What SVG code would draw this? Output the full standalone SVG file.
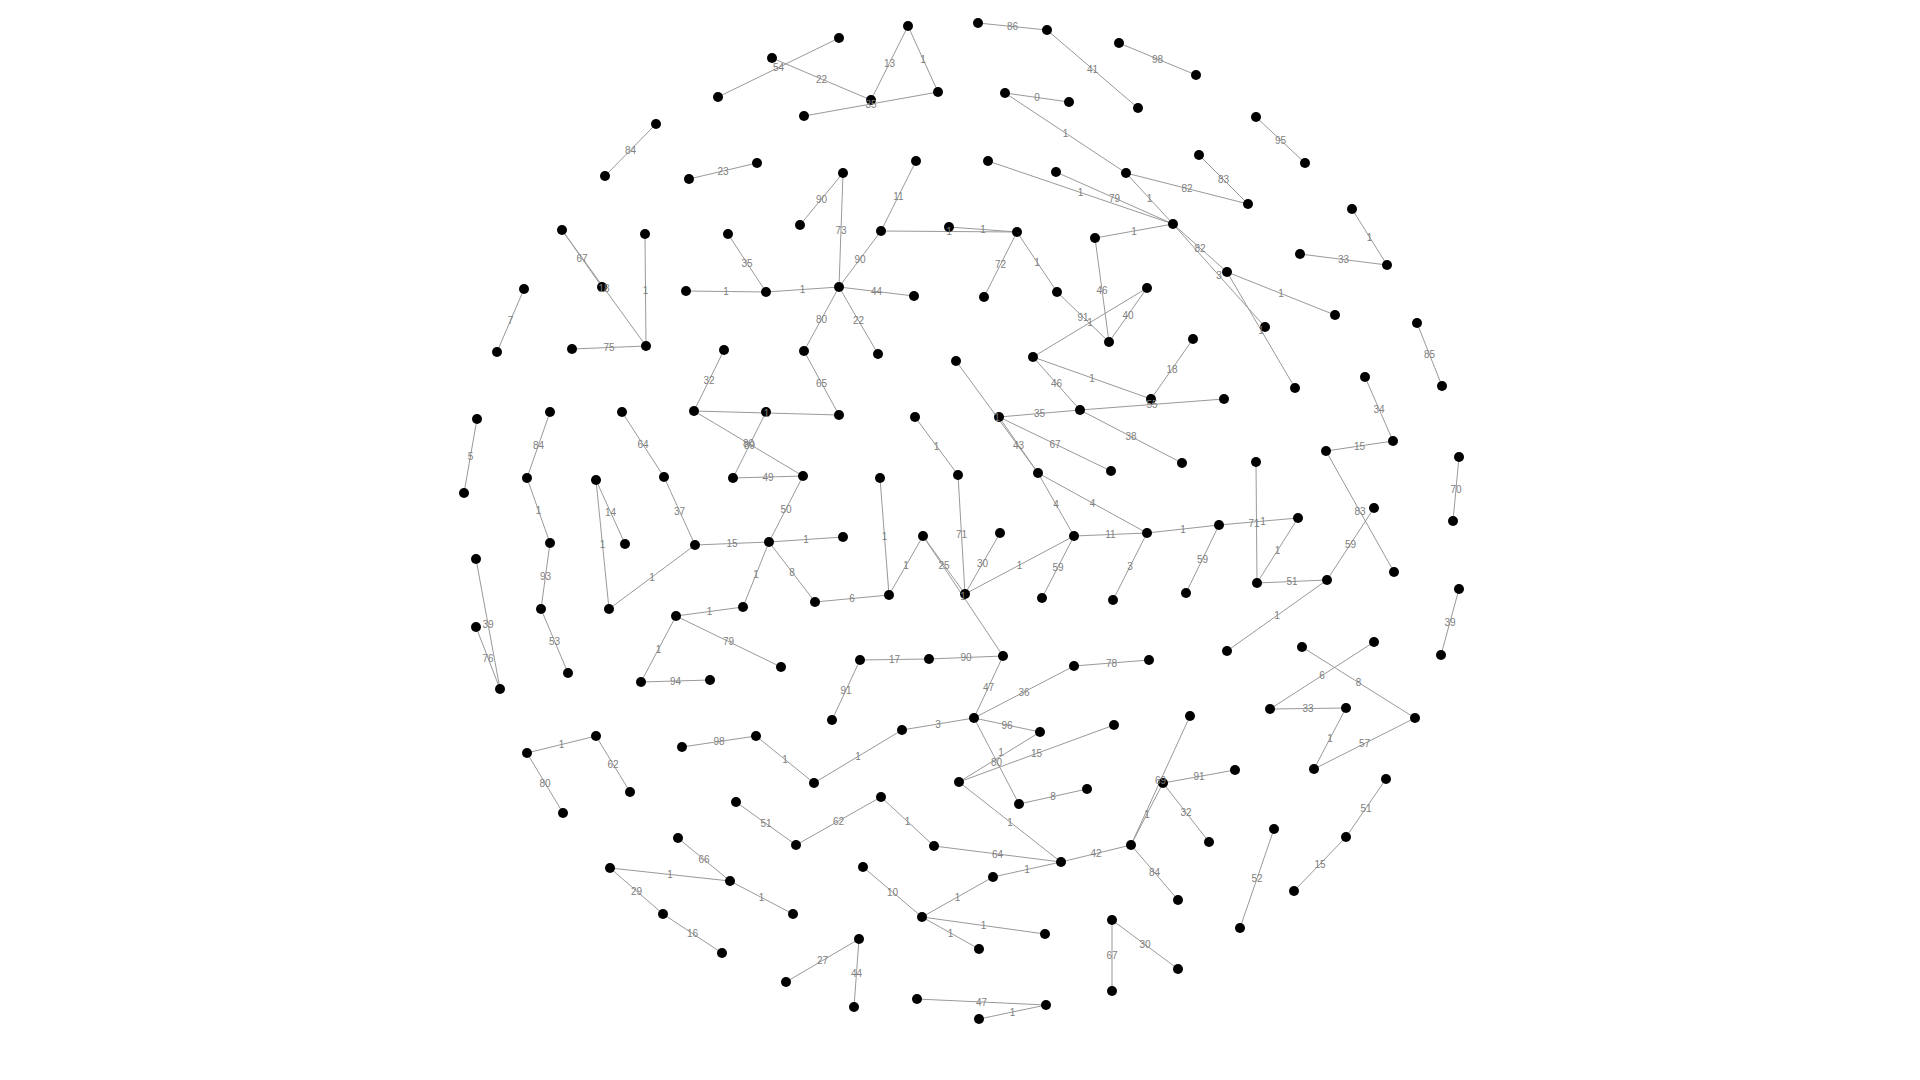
<svg xmlns="http://www.w3.org/2000/svg" width="1920" height="1080" viewBox="0 0 1920 1080">
<style>
.e{stroke:#999;stroke-width:1;fill:none}
.n circle{fill:#000}
.l{font-family:"Liberation Sans",Arial,sans-serif;font-size:10px;fill:#808080;text-anchor:middle;dominant-baseline:central}
</style>
<rect width="1920" height="1080" fill="#fff"/>
<g id="connectors">
<line class="e" x1="656" y1="124" x2="605" y2="176"/>
<line class="e" x1="689" y1="179" x2="757" y2="163"/>
<line class="e" x1="562" y1="230" x2="602" y2="287"/>
<line class="e" x1="562" y1="230" x2="646" y2="346"/>
<line class="e" x1="645" y1="234" x2="646" y2="346"/>
<line class="e" x1="572" y1="349" x2="646" y2="346"/>
<line class="e" x1="524" y1="289" x2="497" y2="352"/>
<line class="e" x1="686" y1="291" x2="766" y2="292"/>
<line class="e" x1="839" y1="38" x2="718" y2="97"/>
<line class="e" x1="772" y1="58" x2="871" y2="100"/>
<line class="e" x1="908" y1="26" x2="871" y2="100"/>
<line class="e" x1="908" y1="26" x2="938" y2="92"/>
<line class="e" x1="804" y1="116" x2="938" y2="92"/>
<line class="e" x1="843" y1="173" x2="800" y2="225"/>
<line class="e" x1="843" y1="173" x2="839" y2="287"/>
<line class="e" x1="916" y1="161" x2="881" y2="231"/>
<line class="e" x1="881" y1="231" x2="839" y2="287"/>
<line class="e" x1="881" y1="231" x2="1017" y2="232"/>
<line class="e" x1="949" y1="227" x2="1017" y2="232"/>
<line class="e" x1="728" y1="234" x2="766" y2="292"/>
<line class="e" x1="766" y1="292" x2="839" y2="287"/>
<line class="e" x1="839" y1="287" x2="914" y2="296"/>
<line class="e" x1="839" y1="287" x2="804" y2="351"/>
<line class="e" x1="839" y1="287" x2="878" y2="354"/>
<line class="e" x1="978" y1="23" x2="1047" y2="30"/>
<line class="e" x1="1047" y1="30" x2="1138" y2="108"/>
<line class="e" x1="1119" y1="43" x2="1196" y2="75"/>
<line class="e" x1="1005" y1="93" x2="1069" y2="102"/>
<line class="e" x1="1005" y1="93" x2="1126" y2="173"/>
<line class="e" x1="1126" y1="173" x2="1173" y2="224"/>
<line class="e" x1="988" y1="161" x2="1173" y2="224"/>
<line class="e" x1="1056" y1="172" x2="1173" y2="224"/>
<line class="e" x1="1126" y1="173" x2="1248" y2="204"/>
<line class="e" x1="1199" y1="155" x2="1248" y2="204"/>
<line class="e" x1="1173" y1="224" x2="1227" y2="272"/>
<line class="e" x1="1173" y1="224" x2="1265" y2="327"/>
<line class="e" x1="1227" y1="272" x2="1295" y2="388"/>
<line class="e" x1="1227" y1="272" x2="1335" y2="315"/>
<line class="e" x1="1017" y1="232" x2="984" y2="297"/>
<line class="e" x1="1017" y1="232" x2="1057" y2="292"/>
<line class="e" x1="1057" y1="292" x2="1109" y2="342"/>
<line class="e" x1="1095" y1="238" x2="1173" y2="224"/>
<line class="e" x1="1095" y1="238" x2="1109" y2="342"/>
<line class="e" x1="1147" y1="288" x2="1109" y2="342"/>
<line class="e" x1="1147" y1="288" x2="1033" y2="357"/>
<line class="e" x1="1193" y1="339" x2="1151" y2="399"/>
<line class="e" x1="1256" y1="117" x2="1305" y2="163"/>
<line class="e" x1="1352" y1="209" x2="1387" y2="265"/>
<line class="e" x1="1300" y1="254" x2="1387" y2="265"/>
<line class="e" x1="1417" y1="323" x2="1442" y2="386"/>
<line class="e" x1="477" y1="419" x2="464" y2="493"/>
<line class="e" x1="550" y1="412" x2="527" y2="478"/>
<line class="e" x1="527" y1="478" x2="550" y2="543"/>
<line class="e" x1="550" y1="543" x2="541" y2="609"/>
<line class="e" x1="541" y1="609" x2="568" y2="673"/>
<line class="e" x1="596" y1="480" x2="625" y2="544"/>
<line class="e" x1="596" y1="480" x2="609" y2="609"/>
<line class="e" x1="622" y1="412" x2="664" y2="477"/>
<line class="e" x1="664" y1="477" x2="695" y2="545"/>
<line class="e" x1="609" y1="609" x2="695" y2="545"/>
<line class="e" x1="724" y1="350" x2="694" y2="411"/>
<line class="e" x1="476" y1="559" x2="500" y2="689"/>
<line class="e" x1="476" y1="627" x2="500" y2="689"/>
<line class="e" x1="676" y1="616" x2="641" y2="682"/>
<line class="e" x1="676" y1="616" x2="743" y2="607"/>
<line class="e" x1="676" y1="616" x2="781" y2="667"/>
<line class="e" x1="641" y1="682" x2="710" y2="680"/>
<line class="e" x1="695" y1="545" x2="769" y2="542"/>
<line class="e" x1="804" y1="351" x2="839" y2="415"/>
<line class="e" x1="694" y1="411" x2="839" y2="415"/>
<line class="e" x1="733" y1="478" x2="803" y2="476"/>
<line class="e" x1="766" y1="412" x2="733" y2="478"/>
<line class="e" x1="694" y1="411" x2="803" y2="476"/>
<line class="e" x1="803" y1="476" x2="769" y2="542"/>
<line class="e" x1="769" y1="542" x2="843" y2="537"/>
<line class="e" x1="769" y1="542" x2="743" y2="607"/>
<line class="e" x1="769" y1="542" x2="815" y2="602"/>
<line class="e" x1="815" y1="602" x2="889" y2="595"/>
<line class="e" x1="880" y1="478" x2="889" y2="595"/>
<line class="e" x1="889" y1="595" x2="923" y2="536"/>
<line class="e" x1="915" y1="417" x2="958" y2="475"/>
<line class="e" x1="958" y1="475" x2="965" y2="594"/>
<line class="e" x1="923" y1="536" x2="965" y2="594"/>
<line class="e" x1="923" y1="536" x2="1003" y2="656"/>
<line class="e" x1="860" y1="660" x2="929" y2="659"/>
<line class="e" x1="929" y1="659" x2="1003" y2="656"/>
<line class="e" x1="860" y1="660" x2="832" y2="720"/>
<line class="e" x1="956" y1="361" x2="1038" y2="473"/>
<line class="e" x1="999" y1="417" x2="1038" y2="473"/>
<line class="e" x1="1033" y1="357" x2="1151" y2="399"/>
<line class="e" x1="1033" y1="357" x2="1080" y2="410"/>
<line class="e" x1="999" y1="417" x2="1080" y2="410"/>
<line class="e" x1="1080" y1="410" x2="1224" y2="399"/>
<line class="e" x1="1080" y1="410" x2="1182" y2="463"/>
<line class="e" x1="999" y1="417" x2="1111" y2="471"/>
<line class="e" x1="1038" y1="473" x2="1074" y2="536"/>
<line class="e" x1="1038" y1="473" x2="1147" y2="533"/>
<line class="e" x1="1074" y1="536" x2="1147" y2="533"/>
<line class="e" x1="1147" y1="533" x2="1219" y2="525"/>
<line class="e" x1="1000" y1="533" x2="965" y2="594"/>
<line class="e" x1="965" y1="594" x2="1074" y2="536"/>
<line class="e" x1="1074" y1="536" x2="1042" y2="598"/>
<line class="e" x1="1147" y1="533" x2="1113" y2="600"/>
<line class="e" x1="1219" y1="525" x2="1186" y2="593"/>
<line class="e" x1="1003" y1="656" x2="974" y2="718"/>
<line class="e" x1="1074" y1="666" x2="1149" y2="660"/>
<line class="e" x1="1074" y1="666" x2="974" y2="718"/>
<line class="e" x1="1365" y1="377" x2="1393" y2="441"/>
<line class="e" x1="1326" y1="451" x2="1393" y2="441"/>
<line class="e" x1="1326" y1="451" x2="1394" y2="572"/>
<line class="e" x1="1374" y1="508" x2="1327" y2="580"/>
<line class="e" x1="1257" y1="583" x2="1327" y2="580"/>
<line class="e" x1="1256" y1="462" x2="1257" y2="583"/>
<line class="e" x1="1219" y1="525" x2="1298" y2="518"/>
<line class="e" x1="1257" y1="583" x2="1298" y2="518"/>
<line class="e" x1="1327" y1="580" x2="1227" y2="651"/>
<line class="e" x1="1459" y1="457" x2="1453" y2="521"/>
<line class="e" x1="1459" y1="589" x2="1441" y2="655"/>
<line class="e" x1="1302" y1="647" x2="1415" y2="718"/>
<line class="e" x1="1374" y1="642" x2="1270" y2="709"/>
<line class="e" x1="1270" y1="709" x2="1346" y2="708"/>
<line class="e" x1="1346" y1="708" x2="1314" y2="769"/>
<line class="e" x1="1314" y1="769" x2="1415" y2="718"/>
<line class="e" x1="1163" y1="783" x2="1235" y2="770"/>
<line class="e" x1="1386" y1="779" x2="1346" y2="837"/>
<line class="e" x1="1346" y1="837" x2="1294" y2="891"/>
<line class="e" x1="1274" y1="829" x2="1240" y2="928"/>
<line class="e" x1="974" y1="718" x2="1040" y2="732"/>
<line class="e" x1="959" y1="782" x2="1114" y2="725"/>
<line class="e" x1="959" y1="782" x2="1040" y2="732"/>
<line class="e" x1="974" y1="718" x2="1019" y2="804"/>
<line class="e" x1="1019" y1="804" x2="1087" y2="789"/>
<line class="e" x1="959" y1="782" x2="1061" y2="862"/>
<line class="e" x1="934" y1="846" x2="1061" y2="862"/>
<line class="e" x1="993" y1="877" x2="1061" y2="862"/>
<line class="e" x1="922" y1="917" x2="993" y2="877"/>
<line class="e" x1="1061" y1="862" x2="1131" y2="845"/>
<line class="e" x1="1131" y1="845" x2="1163" y2="783"/>
<line class="e" x1="1131" y1="845" x2="1190" y2="716"/>
<line class="e" x1="1163" y1="783" x2="1209" y2="842"/>
<line class="e" x1="1131" y1="845" x2="1178" y2="900"/>
<line class="e" x1="1112" y1="920" x2="1112" y2="991"/>
<line class="e" x1="1112" y1="920" x2="1178" y2="969"/>
<line class="e" x1="922" y1="917" x2="1045" y2="934"/>
<line class="e" x1="922" y1="917" x2="979" y2="949"/>
<line class="e" x1="1046" y1="1005" x2="979" y2="1019"/>
<line class="e" x1="917" y1="999" x2="1046" y2="1005"/>
<line class="e" x1="682" y1="747" x2="756" y2="736"/>
<line class="e" x1="756" y1="736" x2="814" y2="783"/>
<line class="e" x1="814" y1="783" x2="902" y2="730"/>
<line class="e" x1="902" y1="730" x2="974" y2="718"/>
<line class="e" x1="736" y1="802" x2="796" y2="845"/>
<line class="e" x1="796" y1="845" x2="881" y2="797"/>
<line class="e" x1="881" y1="797" x2="934" y2="846"/>
<line class="e" x1="863" y1="867" x2="922" y2="917"/>
<line class="e" x1="730" y1="881" x2="793" y2="914"/>
<line class="e" x1="678" y1="838" x2="730" y2="881"/>
<line class="e" x1="610" y1="868" x2="730" y2="881"/>
<line class="e" x1="610" y1="868" x2="663" y2="914"/>
<line class="e" x1="663" y1="914" x2="722" y2="953"/>
<line class="e" x1="859" y1="939" x2="786" y2="982"/>
<line class="e" x1="859" y1="939" x2="854" y2="1007"/>
<line class="e" x1="527" y1="753" x2="596" y2="736"/>
<line class="e" x1="596" y1="736" x2="630" y2="792"/>
<line class="e" x1="527" y1="753" x2="563" y2="813"/>
</g>
<g id="nodes">
<g id="A1" class="n"><circle cx="656" cy="124" r="5"/></g>
<g id="A2" class="n"><circle cx="605" cy="176" r="5"/></g>
<g id="A3" class="n"><circle cx="689" cy="179" r="5"/></g>
<g id="A12" class="n"><circle cx="757" cy="163" r="5"/></g>
<g id="A4" class="n"><circle cx="562" cy="230" r="5"/></g>
<g id="A5" class="n"><circle cx="602" cy="287" r="5"/></g>
<g id="A6" class="n"><circle cx="645" cy="234" r="5"/></g>
<g id="A7" class="n"><circle cx="646" cy="346" r="5"/></g>
<g id="A8" class="n"><circle cx="572" cy="349" r="5"/></g>
<g id="A9" class="n"><circle cx="524" cy="289" r="5"/></g>
<g id="A10" class="n"><circle cx="497" cy="352" r="5"/></g>
<g id="A11" class="n"><circle cx="686" cy="291" r="5"/></g>
<g id="B1" class="n"><circle cx="839" cy="38" r="5"/></g>
<g id="B2" class="n"><circle cx="772" cy="58" r="5"/></g>
<g id="B3" class="n"><circle cx="718" cy="97" r="5"/></g>
<g id="B4" class="n"><circle cx="871" cy="100" r="5"/></g>
<g id="B5" class="n"><circle cx="908" cy="26" r="5"/></g>
<g id="B6" class="n"><circle cx="938" cy="92" r="5"/></g>
<g id="B7" class="n"><circle cx="804" cy="116" r="5"/></g>
<g id="B8" class="n"><circle cx="843" cy="173" r="5"/></g>
<g id="B9" class="n"><circle cx="800" cy="225" r="5"/></g>
<g id="B10" class="n"><circle cx="839" cy="287" r="5"/></g>
<g id="B11" class="n"><circle cx="916" cy="161" r="5"/></g>
<g id="B12" class="n"><circle cx="881" cy="231" r="5"/></g>
<g id="B13" class="n"><circle cx="949" cy="227" r="5"/></g>
<g id="B14" class="n"><circle cx="728" cy="234" r="5"/></g>
<g id="B15" class="n"><circle cx="766" cy="292" r="5"/></g>
<g id="B16" class="n"><circle cx="914" cy="296" r="5"/></g>
<g id="B17" class="n"><circle cx="804" cy="351" r="5"/></g>
<g id="B18" class="n"><circle cx="878" cy="354" r="5"/></g>
<g id="B19" class="n"><circle cx="724" cy="350" r="5"/></g>
<g id="C1" class="n"><circle cx="978" cy="23" r="5"/></g>
<g id="C2" class="n"><circle cx="1047" cy="30" r="5"/></g>
<g id="C3" class="n"><circle cx="1138" cy="108" r="5"/></g>
<g id="C4" class="n"><circle cx="1119" cy="43" r="5"/></g>
<g id="C5" class="n"><circle cx="1196" cy="75" r="5"/></g>
<g id="C6" class="n"><circle cx="1005" cy="93" r="5"/></g>
<g id="C7" class="n"><circle cx="1069" cy="102" r="5"/></g>
<g id="C8" class="n"><circle cx="1126" cy="173" r="5"/></g>
<g id="C9" class="n"><circle cx="1173" cy="224" r="5"/></g>
<g id="C10" class="n"><circle cx="988" cy="161" r="5"/></g>
<g id="C11" class="n"><circle cx="1056" cy="172" r="5"/></g>
<g id="C12" class="n"><circle cx="1199" cy="155" r="5"/></g>
<g id="C13" class="n"><circle cx="1017" cy="232" r="5"/></g>
<g id="C14" class="n"><circle cx="984" cy="297" r="5"/></g>
<g id="C15" class="n"><circle cx="1057" cy="292" r="5"/></g>
<g id="C16" class="n"><circle cx="1109" cy="342" r="5"/></g>
<g id="C17" class="n"><circle cx="1095" cy="238" r="5"/></g>
<g id="C18" class="n"><circle cx="1147" cy="288" r="5"/></g>
<g id="C19" class="n"><circle cx="1193" cy="339" r="5"/></g>
<g id="D0" class="n"><circle cx="1248" cy="204" r="5"/></g>
<g id="D1" class="n"><circle cx="1256" cy="117" r="5"/></g>
<g id="D2" class="n"><circle cx="1305" cy="163" r="5"/></g>
<g id="D3" class="n"><circle cx="1227" cy="272" r="5"/></g>
<g id="D4" class="n"><circle cx="1265" cy="327" r="5"/></g>
<g id="D5" class="n"><circle cx="1335" cy="315" r="5"/></g>
<g id="D6" class="n"><circle cx="1352" cy="209" r="5"/></g>
<g id="D7" class="n"><circle cx="1387" cy="265" r="5"/></g>
<g id="D8" class="n"><circle cx="1300" cy="254" r="5"/></g>
<g id="D9" class="n"><circle cx="1417" cy="323" r="5"/></g>
<g id="D10" class="n"><circle cx="1442" cy="386" r="5"/></g>
<g id="E1" class="n"><circle cx="477" cy="419" r="5"/></g>
<g id="E2" class="n"><circle cx="464" cy="493" r="5"/></g>
<g id="E3" class="n"><circle cx="550" cy="412" r="5"/></g>
<g id="E4" class="n"><circle cx="527" cy="478" r="5"/></g>
<g id="E5" class="n"><circle cx="550" cy="543" r="5"/></g>
<g id="E6" class="n"><circle cx="541" cy="609" r="5"/></g>
<g id="E7" class="n"><circle cx="568" cy="673" r="5"/></g>
<g id="E8" class="n"><circle cx="596" cy="480" r="5"/></g>
<g id="E9" class="n"><circle cx="625" cy="544" r="5"/></g>
<g id="E10" class="n"><circle cx="609" cy="609" r="5"/></g>
<g id="E11" class="n"><circle cx="622" cy="412" r="5"/></g>
<g id="E12" class="n"><circle cx="664" cy="477" r="5"/></g>
<g id="E13" class="n"><circle cx="695" cy="545" r="5"/></g>
<g id="E14" class="n"><circle cx="694" cy="411" r="5"/></g>
<g id="E15" class="n"><circle cx="476" cy="559" r="5"/></g>
<g id="E16" class="n"><circle cx="476" cy="627" r="5"/></g>
<g id="E17" class="n"><circle cx="500" cy="689" r="5"/></g>
<g id="E18" class="n"><circle cx="676" cy="616" r="5"/></g>
<g id="E19" class="n"><circle cx="641" cy="682" r="5"/></g>
<g id="E20" class="n"><circle cx="710" cy="680" r="5"/></g>
<g id="F1" class="n"><circle cx="839" cy="415" r="5"/></g>
<g id="F2" class="n"><circle cx="956" cy="361" r="5"/></g>
<g id="F3" class="n"><circle cx="766" cy="412" r="5"/></g>
<g id="F4" class="n"><circle cx="733" cy="478" r="5"/></g>
<g id="F5" class="n"><circle cx="803" cy="476" r="5"/></g>
<g id="F6" class="n"><circle cx="769" cy="542" r="5"/></g>
<g id="F7" class="n"><circle cx="843" cy="537" r="5"/></g>
<g id="F8" class="n"><circle cx="743" cy="607" r="5"/></g>
<g id="F9" class="n"><circle cx="815" cy="602" r="5"/></g>
<g id="F10" class="n"><circle cx="889" cy="595" r="5"/></g>
<g id="F11" class="n"><circle cx="880" cy="478" r="5"/></g>
<g id="F12" class="n"><circle cx="923" cy="536" r="5"/></g>
<g id="F13" class="n"><circle cx="915" cy="417" r="5"/></g>
<g id="F14" class="n"><circle cx="958" cy="475" r="5"/></g>
<g id="F15" class="n"><circle cx="965" cy="594" r="5"/></g>
<g id="F16" class="n"><circle cx="781" cy="667" r="5"/></g>
<g id="F17" class="n"><circle cx="860" cy="660" r="5"/></g>
<g id="F18" class="n"><circle cx="929" cy="659" r="5"/></g>
<g id="G0" class="n"><circle cx="1033" cy="357" r="5"/></g>
<g id="G1" class="n"><circle cx="999" cy="417" r="5"/></g>
<g id="G2" class="n"><circle cx="1038" cy="473" r="5"/></g>
<g id="G3" class="n"><circle cx="1080" cy="410" r="5"/></g>
<g id="G4" class="n"><circle cx="1151" cy="399" r="5"/></g>
<g id="G5" class="n"><circle cx="1182" cy="463" r="5"/></g>
<g id="G6" class="n"><circle cx="1111" cy="471" r="5"/></g>
<g id="G7" class="n"><circle cx="1074" cy="536" r="5"/></g>
<g id="G8" class="n"><circle cx="1147" cy="533" r="5"/></g>
<g id="G9" class="n"><circle cx="1219" cy="525" r="5"/></g>
<g id="G10" class="n"><circle cx="1000" cy="533" r="5"/></g>
<g id="G11" class="n"><circle cx="1042" cy="598" r="5"/></g>
<g id="G12" class="n"><circle cx="1113" cy="600" r="5"/></g>
<g id="G13" class="n"><circle cx="1186" cy="593" r="5"/></g>
<g id="G14" class="n"><circle cx="1003" cy="656" r="5"/></g>
<g id="G15" class="n"><circle cx="1074" cy="666" r="5"/></g>
<g id="G16" class="n"><circle cx="1149" cy="660" r="5"/></g>
<g id="H0" class="n"><circle cx="1224" cy="399" r="5"/></g>
<g id="H1" class="n"><circle cx="1295" cy="388" r="5"/></g>
<g id="H2" class="n"><circle cx="1365" cy="377" r="5"/></g>
<g id="H3" class="n"><circle cx="1393" cy="441" r="5"/></g>
<g id="H4" class="n"><circle cx="1326" cy="451" r="5"/></g>
<g id="H5" class="n"><circle cx="1394" cy="572" r="5"/></g>
<g id="H6" class="n"><circle cx="1374" cy="508" r="5"/></g>
<g id="H7" class="n"><circle cx="1327" cy="580" r="5"/></g>
<g id="H8" class="n"><circle cx="1257" cy="583" r="5"/></g>
<g id="H9" class="n"><circle cx="1256" cy="462" r="5"/></g>
<g id="H10" class="n"><circle cx="1298" cy="518" r="5"/></g>
<g id="H11" class="n"><circle cx="1227" cy="651" r="5"/></g>
<g id="H12" class="n"><circle cx="1459" cy="457" r="5"/></g>
<g id="H13" class="n"><circle cx="1453" cy="521" r="5"/></g>
<g id="H14" class="n"><circle cx="1459" cy="589" r="5"/></g>
<g id="H15" class="n"><circle cx="1441" cy="655" r="5"/></g>
<g id="H16" class="n"><circle cx="1302" cy="647" r="5"/></g>
<g id="H17" class="n"><circle cx="1374" cy="642" r="5"/></g>
<g id="I1" class="n"><circle cx="1270" cy="709" r="5"/></g>
<g id="I2" class="n"><circle cx="1346" cy="708" r="5"/></g>
<g id="I3" class="n"><circle cx="1314" cy="769" r="5"/></g>
<g id="I4" class="n"><circle cx="1415" cy="718" r="5"/></g>
<g id="I5" class="n"><circle cx="1235" cy="770" r="5"/></g>
<g id="I6" class="n"><circle cx="1386" cy="779" r="5"/></g>
<g id="I7" class="n"><circle cx="1346" cy="837" r="5"/></g>
<g id="I8" class="n"><circle cx="1294" cy="891" r="5"/></g>
<g id="I9" class="n"><circle cx="1274" cy="829" r="5"/></g>
<g id="I10" class="n"><circle cx="1240" cy="928" r="5"/></g>
<g id="J" class="n"><circle cx="1163" cy="783" r="5"/></g>
<g id="K1" class="n"><circle cx="974" cy="718" r="5"/></g>
<g id="K2" class="n"><circle cx="1040" cy="732" r="5"/></g>
<g id="K3" class="n"><circle cx="1114" cy="725" r="5"/></g>
<g id="K4" class="n"><circle cx="959" cy="782" r="5"/></g>
<g id="K5" class="n"><circle cx="1019" cy="804" r="5"/></g>
<g id="K6" class="n"><circle cx="1087" cy="789" r="5"/></g>
<g id="K7" class="n"><circle cx="1061" cy="862" r="5"/></g>
<g id="K8" class="n"><circle cx="993" cy="877" r="5"/></g>
<g id="K9" class="n"><circle cx="1131" cy="845" r="5"/></g>
<g id="K10" class="n"><circle cx="1190" cy="716" r="5"/></g>
<g id="K11" class="n"><circle cx="1209" cy="842" r="5"/></g>
<g id="K12" class="n"><circle cx="1178" cy="900" r="5"/></g>
<g id="K13" class="n"><circle cx="1112" cy="920" r="5"/></g>
<g id="K14" class="n"><circle cx="1112" cy="991" r="5"/></g>
<g id="K15" class="n"><circle cx="1178" cy="969" r="5"/></g>
<g id="K16" class="n"><circle cx="1045" cy="934" r="5"/></g>
<g id="K17" class="n"><circle cx="979" cy="949" r="5"/></g>
<g id="K18" class="n"><circle cx="1046" cy="1005" r="5"/></g>
<g id="K19" class="n"><circle cx="979" cy="1019" r="5"/></g>
<g id="L0" class="n"><circle cx="682" cy="747" r="5"/></g>
<g id="L1" class="n"><circle cx="832" cy="720" r="5"/></g>
<g id="L2" class="n"><circle cx="756" cy="736" r="5"/></g>
<g id="L3" class="n"><circle cx="814" cy="783" r="5"/></g>
<g id="L4" class="n"><circle cx="902" cy="730" r="5"/></g>
<g id="L5" class="n"><circle cx="736" cy="802" r="5"/></g>
<g id="L6" class="n"><circle cx="796" cy="845" r="5"/></g>
<g id="L7" class="n"><circle cx="881" cy="797" r="5"/></g>
<g id="L8" class="n"><circle cx="934" cy="846" r="5"/></g>
<g id="L9" class="n"><circle cx="863" cy="867" r="5"/></g>
<g id="L10" class="n"><circle cx="922" cy="917" r="5"/></g>
<g id="L11" class="n"><circle cx="730" cy="881" r="5"/></g>
<g id="L12" class="n"><circle cx="793" cy="914" r="5"/></g>
<g id="L13" class="n"><circle cx="722" cy="953" r="5"/></g>
<g id="L14" class="n"><circle cx="859" cy="939" r="5"/></g>
<g id="L15" class="n"><circle cx="786" cy="982" r="5"/></g>
<g id="L16" class="n"><circle cx="854" cy="1007" r="5"/></g>
<g id="L17" class="n"><circle cx="917" cy="999" r="5"/></g>
<g id="N1" class="n"><circle cx="527" cy="753" r="5"/></g>
<g id="N2" class="n"><circle cx="596" cy="736" r="5"/></g>
<g id="N3" class="n"><circle cx="630" cy="792" r="5"/></g>
<g id="N4" class="n"><circle cx="563" cy="813" r="5"/></g>
<g id="N5" class="n"><circle cx="678" cy="838" r="5"/></g>
<g id="N6" class="n"><circle cx="610" cy="868" r="5"/></g>
<g id="N7" class="n"><circle cx="663" cy="914" r="5"/></g>
</g>
<g id="edge-labels">
<text class="l" x="630.5" y="150">84</text>
<text class="l" x="723" y="171">23</text>
<text class="l" x="582" y="258.5">67</text>
<text class="l" x="604" y="288">18</text>
<text class="l" x="645.5" y="290">1</text>
<text class="l" x="609" y="347.5">75</text>
<text class="l" x="510.5" y="320.5">7</text>
<text class="l" x="726" y="291.5">1</text>
<text class="l" x="778.5" y="67.5">54</text>
<text class="l" x="821.5" y="79">22</text>
<text class="l" x="889.5" y="63">13</text>
<text class="l" x="923" y="59">1</text>
<text class="l" x="871" y="104">35</text>
<text class="l" x="821.5" y="199">90</text>
<text class="l" x="841" y="230">73</text>
<text class="l" x="898.5" y="196">11</text>
<text class="l" x="860" y="259">90</text>
<text class="l" x="949" y="231.5">1</text>
<text class="l" x="983" y="229.5">1</text>
<text class="l" x="747" y="263">35</text>
<text class="l" x="802.5" y="289.5">1</text>
<text class="l" x="876.5" y="291.5">44</text>
<text class="l" x="821.5" y="319">80</text>
<text class="l" x="858.5" y="320.5">22</text>
<text class="l" x="1012.5" y="26.5">86</text>
<text class="l" x="1092.5" y="69">41</text>
<text class="l" x="1157.5" y="59">98</text>
<text class="l" x="1037" y="97.5">0</text>
<text class="l" x="1065.5" y="133">1</text>
<text class="l" x="1149.5" y="198.5">1</text>
<text class="l" x="1080.5" y="192.5">1</text>
<text class="l" x="1114.5" y="198">79</text>
<text class="l" x="1187" y="188.5">82</text>
<text class="l" x="1223.5" y="179.5">83</text>
<text class="l" x="1200" y="248">82</text>
<text class="l" x="1219" y="275.5">3</text>
<text class="l" x="1261" y="330">1</text>
<text class="l" x="1281" y="293.5">1</text>
<text class="l" x="1000.5" y="264.5">72</text>
<text class="l" x="1037" y="262">1</text>
<text class="l" x="1083" y="317">91</text>
<text class="l" x="1134" y="231">1</text>
<text class="l" x="1102" y="290">46</text>
<text class="l" x="1128" y="315">40</text>
<text class="l" x="1090" y="322.5">1</text>
<text class="l" x="1172" y="369">18</text>
<text class="l" x="1280.5" y="140">95</text>
<text class="l" x="1369.5" y="237">1</text>
<text class="l" x="1343.5" y="259.5">33</text>
<text class="l" x="1429.5" y="354.5">85</text>
<text class="l" x="470.5" y="456">5</text>
<text class="l" x="538.5" y="445">84</text>
<text class="l" x="538.5" y="510.5">1</text>
<text class="l" x="545.5" y="576">93</text>
<text class="l" x="554.5" y="641">53</text>
<text class="l" x="610.5" y="512">14</text>
<text class="l" x="602.5" y="544.5">1</text>
<text class="l" x="643" y="444.5">64</text>
<text class="l" x="679.5" y="511">37</text>
<text class="l" x="652" y="577">1</text>
<text class="l" x="709" y="380.5">32</text>
<text class="l" x="488" y="624">39</text>
<text class="l" x="488" y="658">76</text>
<text class="l" x="658.5" y="649">1</text>
<text class="l" x="709.5" y="611.5">1</text>
<text class="l" x="728.5" y="641.5">79</text>
<text class="l" x="675.5" y="681">94</text>
<text class="l" x="732" y="543.5">15</text>
<text class="l" x="821.5" y="383">65</text>
<text class="l" x="766.5" y="413">1</text>
<text class="l" x="768" y="477">49</text>
<text class="l" x="749.5" y="445">89</text>
<text class="l" x="748.5" y="443.5">80</text>
<text class="l" x="786" y="509">50</text>
<text class="l" x="806" y="539.5">1</text>
<text class="l" x="756" y="574.5">1</text>
<text class="l" x="792" y="572">8</text>
<text class="l" x="852" y="598.5">6</text>
<text class="l" x="884.5" y="536.5">1</text>
<text class="l" x="906" y="565.5">1</text>
<text class="l" x="936.5" y="446">1</text>
<text class="l" x="961.5" y="534.5">71</text>
<text class="l" x="944" y="565">25</text>
<text class="l" x="963" y="596">1</text>
<text class="l" x="894.5" y="659.5">17</text>
<text class="l" x="966" y="657.5">90</text>
<text class="l" x="846" y="690">91</text>
<text class="l" x="997" y="417">1</text>
<text class="l" x="1018.5" y="445">43</text>
<text class="l" x="1092" y="378">1</text>
<text class="l" x="1056.5" y="383.5">46</text>
<text class="l" x="1039.5" y="413.5">35</text>
<text class="l" x="1152" y="404.5">55</text>
<text class="l" x="1131" y="436.5">38</text>
<text class="l" x="1055" y="444">67</text>
<text class="l" x="1056" y="504.5">4</text>
<text class="l" x="1092.5" y="503">4</text>
<text class="l" x="1110.5" y="534.5">11</text>
<text class="l" x="1183" y="529">1</text>
<text class="l" x="982.5" y="563.5">30</text>
<text class="l" x="1019.5" y="565">1</text>
<text class="l" x="1058" y="567">59</text>
<text class="l" x="1130" y="566.5">3</text>
<text class="l" x="1202.5" y="559">59</text>
<text class="l" x="988.5" y="687">47</text>
<text class="l" x="1111.5" y="663">78</text>
<text class="l" x="1024" y="692">36</text>
<text class="l" x="1379" y="409">34</text>
<text class="l" x="1359.5" y="446">15</text>
<text class="l" x="1360" y="511.5">83</text>
<text class="l" x="1350.5" y="544">59</text>
<text class="l" x="1292" y="581.5">51</text>
<text class="l" x="1254" y="523">71</text>
<text class="l" x="1263" y="521">1</text>
<text class="l" x="1277.5" y="550.5">1</text>
<text class="l" x="1277" y="615.5">1</text>
<text class="l" x="1456" y="489">70</text>
<text class="l" x="1450" y="622">39</text>
<text class="l" x="1358.5" y="682.5">8</text>
<text class="l" x="1322" y="675.5">6</text>
<text class="l" x="1308" y="708.5">33</text>
<text class="l" x="1330" y="738.5">1</text>
<text class="l" x="1364.5" y="743.5">57</text>
<text class="l" x="1199" y="776.5">91</text>
<text class="l" x="1366" y="808">51</text>
<text class="l" x="1320" y="864">15</text>
<text class="l" x="1257" y="878.5">52</text>
<text class="l" x="1007" y="725">96</text>
<text class="l" x="1036.5" y="753.5">15</text>
<text class="l" x="1001" y="752">1</text>
<text class="l" x="996.5" y="762">80</text>
<text class="l" x="1053" y="796.5">8</text>
<text class="l" x="1010" y="822">1</text>
<text class="l" x="997.5" y="854">64</text>
<text class="l" x="1027" y="869.5">1</text>
<text class="l" x="957.5" y="897">1</text>
<text class="l" x="1096" y="853.5">42</text>
<text class="l" x="1147" y="814">1</text>
<text class="l" x="1160.5" y="780.5">69</text>
<text class="l" x="1186" y="812.5">32</text>
<text class="l" x="1154.5" y="872.5">84</text>
<text class="l" x="1112" y="955.5">67</text>
<text class="l" x="1145" y="944.5">30</text>
<text class="l" x="983.5" y="925.5">1</text>
<text class="l" x="950.5" y="933">1</text>
<text class="l" x="1012.5" y="1012">1</text>
<text class="l" x="981.5" y="1002">47</text>
<text class="l" x="719" y="741.5">98</text>
<text class="l" x="785" y="759.5">1</text>
<text class="l" x="858" y="756.5">1</text>
<text class="l" x="938" y="724">3</text>
<text class="l" x="766" y="823.5">51</text>
<text class="l" x="838.5" y="821">62</text>
<text class="l" x="907.5" y="821.5">1</text>
<text class="l" x="892.5" y="892">10</text>
<text class="l" x="761.5" y="897.5">1</text>
<text class="l" x="704" y="859.5">66</text>
<text class="l" x="670" y="874.5">1</text>
<text class="l" x="636.5" y="891">29</text>
<text class="l" x="692.5" y="933.5">16</text>
<text class="l" x="822.5" y="960.5">27</text>
<text class="l" x="856.5" y="973">44</text>
<text class="l" x="561.5" y="744.5">1</text>
<text class="l" x="613" y="764">62</text>
<text class="l" x="545" y="783">80</text>
</g>
</svg>
